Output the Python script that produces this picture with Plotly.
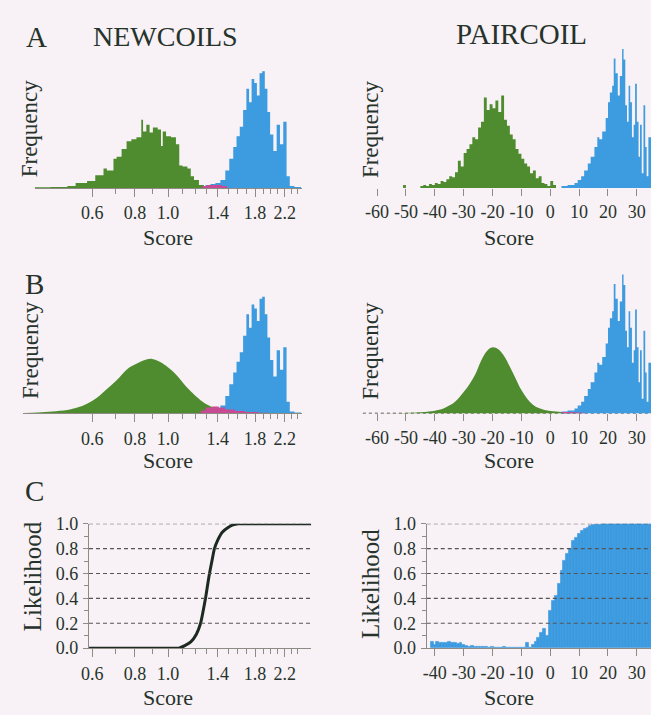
import numpy as np
import plotly.graph_objects as go

W, H = 651, 715
BG = "#f8f1f5"
GREEN = "#4e8c2f"
BLUE = "#3d9be0"
PINK = "#c94a94"
TEXT = "#26332c"
AXIS = "#8c8c84"
FONT = "Liberation Serif, Times New Roman, serif"

# ---------------- NEWCOILS (score, frequency) ----------------
nc_green_edges = [0.406, 0.453, 0.507, 0.536, 0.579, 0.612, 0.647, 0.662, 0.692, 0.707,
                  0.731, 0.756, 0.781, 0.808, 0.835, 0.845, 0.864, 0.883, 0.903, 0.933,
                  0.954, 0.965, 0.987, 1.020, 1.055, 1.079, 1.103, 1.140, 1.166, 1.192,
                  1.232, 1.274, 1.317]
nc_green_counts = [0.7, 1, 2, 5, 7, 13, 20, 18, 30, 32,
                   40, 48, 50, 52, 70, 58, 65, 57, 62, 60,
                   43, 58, 53, 52, 45, 23, 22, 20, 12, 8,
                   3, 2]
nc_blue_edges = [1.288, 1.332, 1.377, 1.424, 1.472, 1.512, 1.553, 1.588, 1.623, 1.660,
                 1.697, 1.728, 1.758, 1.790, 1.822, 1.855, 1.888, 1.922, 1.956, 1.992,
                 2.036, 2.082, 2.129, 2.177, 2.226, 2.275, 2.347, 2.455]
nc_blue_counts = [3, 4, 5, 8, 18, 30, 42, 53, 63, 80,
                  102, 88, 112, 108, 95, 118, 120, 102, 78, 55,
                  38, 65, 45, 68, 12, 2, 1]
nc_pinkA_edges = [1.26, 1.30, 1.35, 1.44, 1.49]
nc_pinkA_counts = [2, 3, 3, 2]
nc_fit_scores = [0.380, 0.415, 0.458, 0.507, 0.542, 0.579, 0.619, 0.662, 0.707, 0.756,
                 0.808, 0.864, 0.899, 0.936, 0.987, 1.055, 1.128, 1.205, 1.288, 1.377,
                 1.472, 1.574]
nc_fit_freq = [0.5, 1, 2, 3.5, 6, 10, 16, 25, 34, 45,
               51, 55.5, 56, 54, 49, 40, 28, 18, 10, 5.5,
               2.5, 1]
nc_pinkB_edges = [1.246, 1.288, 1.347, 1.408, 1.472, 1.574, 1.682, 1.839, 1.965]
nc_pinkB_counts = [3, 6, 7, 6, 4, 2.5, 1.5, 0.7]
nc_like_scores = [0.587, 1.0, 1.076, 1.12, 1.166, 1.21, 1.246, 1.268, 1.288, 1.305,
                  1.323, 1.345, 1.368, 1.40, 1.44, 1.50, 1.55, 1.605, 1.7, 2.63]
nc_like_vals = [0, 0, 0, 0.02, 0.05, 0.11, 0.2, 0.3, 0.4, 0.5,
                0.6, 0.7, 0.8, 0.87, 0.93, 0.97, 0.99, 1.0, 1.0, 1.0]
nc_tick_vals = [0.6, 0.8, 1.0, 1.4, 1.8, 2.2]
nc_tick_text = ["0.6", "0.8", "1.0", "1.4", "1.8", "2.2"]
nc_minor_vals = [0.7, 0.9, 1.1, 1.2, 1.3, 1.5, 1.6, 1.7, 1.9, 2.0, 2.1, 2.3, 2.4]

# ---------------- PAIRCOIL (score, frequency) ----------------
pc_green_edges = [-51, -50] + list(range(-45, 3))
pc_green_counts = [3, 0,
                   2, 3, 2, 4, 3, 5, 4, 7, 6, 9,
                   12, 11, 16, 28, 22, 36, 40, 45, 52, 50,
                   62, 68, 93, 80, 86, 82, 90, 78, 95, 70,
                   64, 55, 50, 40, 35, 30, 25, 22, 15, 18,
                   10, 12, 5, 4, 2, 7, 3]
pc_blue_edges = [3.9, 6.0, 8.4, 9.5, 10.7, 11.75, 13.0, 14.0, 15.3, 16.3,
                 17.0, 18.0, 19.2, 20.0, 20.65, 21.45, 22.0, 22.6, 23.4, 24.1,
                 24.9, 25.4, 26.0, 26.6, 27.15, 27.7, 28.3, 28.9, 29.4, 30.0,
                 30.6, 31.1, 31.7, 32.3, 32.9, 33.4, 34.0, 35.5]
pc_blue_counts = [2, 3, 5, 8, 12, 18, 25, 32, 42, 52,
                  50, 58, 72, 88, 98, 105, 133, 118, 95, 115,
                  143, 132, 85, 68, 105, 88, 52, 65, 107, 68,
                  32, 65, 15, 85, 42, 12, 52]
pc_fit_scores = [-62, -55, -50, -45, -42, -40, -37, -35, -33, -30,
                 -28, -26, -24, -22, -20, -18, -16, -14, -12, -10,
                 -8, -6, -4, -2, 0, 2, 4, 6, 8, 10]
pc_fit_freq = [0, 0.2, 0.5, 1.2, 2, 2.8, 5, 8, 12, 22,
               30, 40, 54, 64, 68, 66, 59, 48, 36, 24,
               15, 9, 5.5, 3.5, 2.5, 2, 1.5, 1, 0.5, 0.2]
pc_pinkB_edges = [4, 7, 10, 12]
pc_pinkB_counts = [1.5, 1.2, 0.6]
pc_like_scores = list(range(-41, 36))
pc_like_vals = [0.05, 0.03, 0.05, 0.04, 0.045, 0.04, 0.05, 0.04, 0.045, 0.035, 0.045, 0.03,
                0.02, 0.015, 0.02, 0.015, 0.01, 0.015, 0.01, 0.012, 0.0, 0.008,
                0.0, 0.006, 0.0, 0.008, 0.006, 0, 0, 0, 0, 0,
                0, 0.04, 0, 0.03, 0.05, 0.08, 0.12, 0.16, 0.1, 0.3,
                0.38, 0.42, 0.52, 0.62, 0.7, 0.76, 0.8, 0.86, 0.89, 0.92,
                0.94, 0.96, 0.97, 0.98, 0.99, 0.99, 0.995, 1, 1, 1,
                1, 1, 1, 1, 1, 1, 1, 1, 1, 1, 1, 1, 1, 1, 1]
pc_tick_vals = [-60, -50, -40, -30, -20, -10, 0, 10, 20, 30]
pc_tick_text = ["-60", "-50", "-40", "-30", "-20", "-10", "0", "10", "20", "30"]
pcC_tick_vals = [-40, -30, -20, -10, 0, 10, 20, 30]
pcC_tick_text = ["-40", "-30", "-20", "-10", "0", "10", "20", "30"]
like_tick_vals = [0, 0.2, 0.4, 0.6, 0.8, 1.0]
like_tick_text = ["0.0", "0.2", "0.4", "0.6", "0.8", "1.0"]
like_grid_vals = [0.2, 0.4, 0.6, 0.8, 1.0]


# ---------------- helpers (layout geometry) ----------------
def fx(px):
    return px / W


def fy(py):
    return 1 - py / H


def lx(px):  # pixel -> log10(score) on NEWCOILS axes
    return (px - 162) / 150 / np.log(10)


def pcx(px):  # pixel -> PAIRCOIL score
    return (px - 549) / 2.922


def step(edges, counts, color, xa, ya):
    return go.Scatter(x=list(edges), y=list(counts) + [counts[-1]], mode="lines",
                      line=dict(width=0, shape="hv", color=color), fill="tozeroy",
                      fillcolor=color, xaxis=xa, yaxis=ya, hoverinfo="skip", showlegend=False)


def smooth(xs, ys, color, xa, ya):
    return go.Scatter(x=xs, y=ys, mode="lines", line=dict(width=0, shape="spline", color=color),
                      fill="tozeroy", fillcolor=color, xaxis=xa, yaxis=ya,
                      hoverinfo="skip", showlegend=False)


fig = go.Figure()
# A
fig.add_trace(step(nc_green_edges, nc_green_counts, GREEN, "x", "y"))
fig.add_trace(step(nc_blue_edges, nc_blue_counts, BLUE, "x", "y"))
fig.add_trace(step(nc_pinkA_edges, nc_pinkA_counts, PINK, "x", "y"))
fig.add_trace(step(pc_green_edges, pc_green_counts, GREEN, "x2", "y2"))
fig.add_trace(step(pc_blue_edges, pc_blue_counts, BLUE, "x2", "y2"))
# B
fig.add_trace(smooth(nc_fit_scores, nc_fit_freq, GREEN, "x3", "y3"))
fig.add_trace(step(nc_blue_edges, nc_blue_counts, BLUE, "x3", "y3"))
fig.add_trace(step(nc_pinkB_edges, nc_pinkB_counts, PINK, "x3", "y3"))
fig.add_trace(smooth(pc_fit_scores, pc_fit_freq, GREEN, "x4", "y4"))
fig.add_trace(step(pc_blue_edges, pc_blue_counts, BLUE, "x4", "y4"))
fig.add_trace(step(pc_pinkB_edges, pc_pinkB_counts, PINK, "x4", "y4"))
# C
fig.add_trace(go.Scatter(x=nc_like_scores, y=nc_like_vals, mode="lines",
                         line=dict(color="#1d2a21", width=3, shape="spline", smoothing=0.6),
                         xaxis="x5", yaxis="y5", cliponaxis=False, showlegend=False, hoverinfo="skip"))
fig.add_trace(go.Bar(x=pc_like_scores, y=pc_like_vals, width=1,
                     marker=dict(color=BLUE, line=dict(width=0.6, color=BLUE)),
                     xaxis="x6", yaxis="y6", showlegend=False, hoverinfo="skip"))

tickfont = dict(family=FONT, size=18, color=TEXT)
ytickfont = dict(family=FONT, size=18, color=TEXT)


def nc_xaxis(px0, px1, showline=True):
    return dict(type="log", range=[lx(px0), lx(px1)], domain=[fx(px0), fx(px1)],
                tickvals=nc_tick_vals, ticktext=nc_tick_text, ticks="outside", ticklen=8,
                tickcolor=AXIS, tickwidth=1.3, tickfont=tickfont, showgrid=False, zeroline=False,
                showline=showline, linecolor=AXIS, linewidth=1,
                minor=dict(tickvals=nc_minor_vals, ticks="outside", ticklen=5, tickcolor=AXIS, tickwidth=1.3),
                ticklabelstandoff=1)


def pc_xaxis(px0, px1, vals, text, showline=True):
    return dict(range=[pcx(px0), pcx(px1)], domain=[fx(px0), min(1, fx(px1))],
                tickvals=vals, ticktext=text, ticks="outside", ticklen=7,
                tickcolor=AXIS, tickwidth=1.3, tickfont=tickfont, showgrid=False, zeroline=False,
                showline=showline, linecolor=AXIS, linewidth=1, ticklabelstandoff=1)


def hist_yaxis(py0, py1):
    return dict(range=[0, 148], domain=[fy(py0), fy(py1)], showticklabels=False, ticks="",
                zeroline=False, showline=False, showgrid=False)


def like_yaxis(anchor):
    return dict(range=[0, 1], domain=[fy(656.5), fy(528.5)], tickvals=like_tick_vals,
                ticktext=like_tick_text, tickfont=ytickfont, ticks="outside", ticklen=5,
                tickcolor=AXIS, tickwidth=1.2, showgrid=False, zeroline=False, showline=True,
                linecolor=AXIS, linewidth=1.2,
                minor=dict(tickvals=[0.1, 0.3, 0.5, 0.7, 0.9], ticks="outside", ticklen=4,
                           tickcolor=AXIS, tickwidth=1.2),
                anchor=anchor, ticklabelstandoff=1)


fig.update_layout(
    width=W, height=H, autosize=False,
    margin=dict(l=0, r=0, t=0, b=0),
    paper_bgcolor=BG, plot_bgcolor="rgba(0,0,0,0)",
    bargap=0,
    font=dict(family=FONT, color=TEXT),
    xaxis=dict(nc_xaxis(27, 298), anchor="y"),
    yaxis=dict(hist_yaxis(183, 35), anchor="x"),
    xaxis2=dict(pc_xaxis(365, 651, pc_tick_vals, pc_tick_text, showline=False), anchor="y2"),
    yaxis2=dict(hist_yaxis(183, 35), anchor="x2"),
    xaxis3=dict(nc_xaxis(15, 298), anchor="y3"),
    yaxis3=dict(hist_yaxis(415, 267), anchor="x3"),
    xaxis4=dict(pc_xaxis(365, 651, pc_tick_vals, pc_tick_text, showline=False), anchor="y4"),
    yaxis4=dict(hist_yaxis(415, 267), anchor="x4"),
    xaxis5=dict(nc_xaxis(82, 307), anchor="y5", linewidth=1.2),
    yaxis5=like_yaxis("x5"),
    xaxis6=dict(pc_xaxis(424, 651, pcC_tick_vals, pcC_tick_text), anchor="y6", linewidth=1.2),
    yaxis6=like_yaxis("x6"),
)

# dashed baseline under the PAIRCOIL fitted distribution (B)
fig.add_shape(type="line", xref="x4 domain", yref="y4", x0=-0.02, x1=1, y0=0, y1=0,
              line=dict(color="#333333", width=1.2, dash="3px,3px"), layer="below")

# dashed likelihood grid lines, drawn above the marks as in the original
for xa, ya in (("x5", "y5"), ("x6", "y6")):
    for v in like_grid_vals:
        fig.add_shape(type="line", xref=f"{xa} domain", yref=ya, x0=0, x1=1, y0=v, y1=v,
                      line=dict(color="#555555", width=1.1, dash="4px,3px"), layer="above")


def ann(text, px, py, size, angle=0):
    fig.add_annotation(text=text, x=fx(px), y=fy(py), xref="paper", yref="paper",
                       showarrow=False, textangle=angle, xanchor="center", yanchor="middle",
                       font=dict(family=FONT, size=size, color=TEXT))


ann("A", 29, 28, 29)
ann("NEWCOILS", 159, 27, 28)
ann("PAIRCOIL", 520, 25, 29)
ann("B", 27, 282, 29)
ann("C", 27, 495, 29)
for py in (122, 350):
    ann("Frequency", 22, py, 23, -90)
    ann("Frequency", 367, py, 23, -90)
ann("Likelihood", 25, 583, 25, -90)
ann("Likelihood", 367, 590, 25, -90)
for py in (234, 463, 707):
    ann("Score", 162, py, 22)
    ann("Score", 507, py, 22)

fig.write_html("out.html", config={"displayModeBar": False},
               post_script="document.body.style.margin='0px';")
